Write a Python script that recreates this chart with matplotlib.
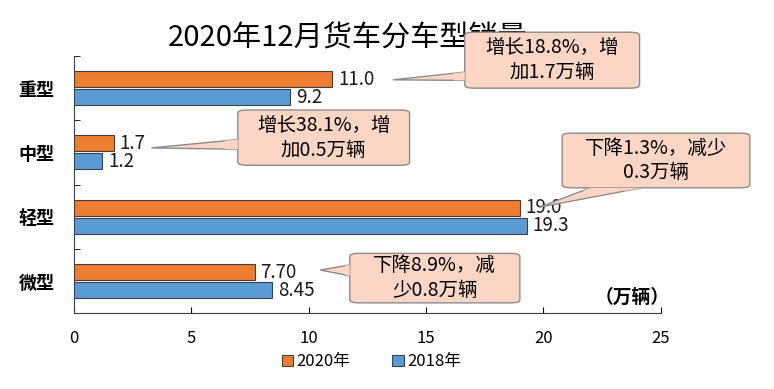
import matplotlib.pyplot as plt
from matplotlib.patches import FancyBboxPatch, Polygon

plt.rcParams['font.family'] = ['Noto Sans CJK SC', 'DejaVu Sans']

# data
categories = ['重型', '中型', '轻型', '微型']
sales_2020 = [11.0, 1.7, 19.0, 7.70]
sales_2018 = [9.2, 1.2, 19.3, 8.45]
labels_2020 = ['11.0', '1.7', '19.0', '7.70']
labels_2018 = ['9.2', '1.2', '19.3', '8.45']
notes = ['增长18.8%，增\n加1.7万辆', '增长38.1%，增\n加0.5万辆',
         '下降1.3%，减少\n0.3万辆', '下降8.9%，减\n少0.8万辆']

orange = '#ED7D31'
blue = '#5B9BD5'
box_fill = '#FBD6C4'
box_edge = '#8C8C8C'

fig = plt.figure(figsize=(7.74, 3.89), dpi=100)
ax = fig.add_axes([0.0956, 0.195, 0.758, 0.661])

y = list(range(len(categories)))
h = 0.25
off = 0.14
ax.barh([v - off for v in y], sales_2020, height=h, color=orange,
        edgecolor='#404040', linewidth=0.8, label='2020年', zorder=3)
ax.barh([v + off for v in y], sales_2018, height=h, color=blue,
        edgecolor='#404040', linewidth=0.8, label='2018年', zorder=3)

for i in y:
    ax.text(sales_2020[i] + 0.25, i - off, labels_2020[i], va='center',
            ha='left', fontsize=13.5, color='#1a1a1a', zorder=4)
    ax.text(sales_2018[i] + 0.25, i + off, labels_2018[i], va='center',
            ha='left', fontsize=13.5, color='#1a1a1a', zorder=4)

ax.set_xlim(0, 25)
ax.set_ylim(3.5, -0.5)
ax.set_xticks([0, 5, 10, 15, 20, 25])
ax.set_yticks(y)
ax.set_yticklabels(categories, fontsize=13, fontweight='bold')
ax.set_yticks([-0.5, 0.5, 1.5, 2.5, 3.5], minor=True)
ax.tick_params(axis='y', which='major', length=0, pad=14)
ax.tick_params(axis='y', which='minor', direction='in', length=4)
ax.tick_params(axis='x', direction='in', length=4, labelsize=12, pad=12)
for s in ['top', 'right']:
    ax.spines[s].set_visible(False)
for s in ['left', 'bottom']:
    ax.spines[s].set_color('#404040')

ax.text(23.8, 3.25, '（万辆）', ha='center', va='center', fontsize=13.5,
        fontweight='bold', zorder=4)

# title sits behind the first callout box
ax.text(0.449, 0.902, '2020年12月货车分车型销量', ha='center', va='center',
        fontsize=21, transform=fig.transFigure, zorder=1, clip_on=False)


# callout boxes: (x0, y0, x1, y1), tip, base points
def callout(box, tip, base, text):
    x0, y0, x1, y1 = box
    wedge = Polygon([tip, base[0], base[1]], closed=True, facecolor=box_fill,
                    edgecolor=box_edge, linewidth=1, zorder=5, clip_on=False)
    ax.add_patch(wedge)
    rect = FancyBboxPatch((x0, y0), x1 - x0, y1 - y0,
                          boxstyle='round,pad=0,rounding_size=0.4',
                          mutation_aspect=0.12, facecolor=box_fill,
                          edgecolor=box_edge, linewidth=1, zorder=6,
                          clip_on=False)
    ax.add_patch(rect)
    # hide the box border where the wedge joins
    mx = [(b[0] * 0.85 + tip[0] * 0.15) for b in base]
    my = [(b[1] * 0.85 + tip[1] * 0.15) for b in base]
    cover = Polygon([base[0], base[1], (mx[1], my[1]), (mx[0], my[0])],
                    closed=True, facecolor=box_fill, edgecolor='none',
                    zorder=7, clip_on=False)
    ax.add_patch(cover)
    ax.text((x0 + x1) / 2, (y0 + y1) / 2, text, ha='center', va='center',
            fontsize=14, linespacing=1.25, zorder=8, clip_on=False)


callout((16.65, -0.87, 24.1, 0.0), (sales_2020[0] + 2.6, -0.13),
        [(16.65, -0.25), (16.65, -0.12)], notes[0])
callout((6.98, 0.34, 14.3, 1.2), (sales_2020[1] + 1.6, 0.93),
        [(6.98, 0.8), (6.98, 0.95)], notes[1])
callout((20.8, 0.7, 28.8, 1.55), (sales_2020[2] + 0.85, 1.85),
        [(22.0, 1.55), (24.2, 1.55)], notes[2])
callout((11.75, 2.57, 19.0, 3.34), (sales_2020[3] + 2.8, 2.83),
        [(11.75, 2.75), (11.75, 2.92)], notes[3])

fig.legend(loc='center', bbox_to_anchor=(0.48, 0.07), ncol=2, frameon=False,
           fontsize=12, handlelength=0.7, handleheight=0.7,
           handletextpad=0.2, columnspacing=2.5)

fig.savefig('out.png', dpi=100)
